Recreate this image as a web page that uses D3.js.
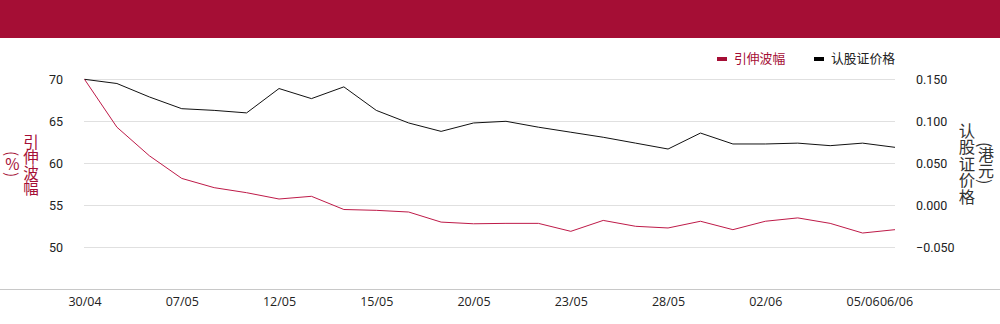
<!DOCTYPE html>
<html><head><meta charset="utf-8">
<script src="https://cdn.jsdelivr.net/npm/d3@7"></script>
<style>html,body{margin:0;padding:0;background:#fff;}svg{display:block;}
.vt{writing-mode:vertical-rl;text-orientation:mixed;}
.up{text-orientation:upright;}</style>
</head><body><svg id="c" width="1000" height="324"></svg>
<script>
const dates = ["30/04","02/05","06/05","07/05","08/05","09/05","12/05","13/05","14/05","15/05","16/05","19/05","20/05","21/05","22/05","23/05","26/05","27/05","28/05","29/05","30/05","02/06","03/06","04/06","05/06","06/06"];
const impliedVol = [70,64.3,60.9,58.2,57.1,56.5,55.75,56.07,54.5,54.4,54.2,53.0,52.8,52.85,52.85,51.9,53.2,52.5,52.3,53.1,52.1,53.1,53.5,52.85,51.7,52.1];
const warrantPrice = [0.150,0.145,0.129,0.115,0.113,0.110,0.139,0.127,0.141,0.113,0.098,0.088,0.098,0.100,0.093,0.087,0.081,0.074,0.067,0.086,0.073,0.073,0.074,0.071,0.074,0.069];
const leftTicks = [50,55,60,65,70];
const rightTicks = [-0.05,0,0.05,0.1,0.15];
const xTickLabels = ["30/04","07/05","12/05","15/05","20/05","23/05","28/05","02/06","05/06","06/06"];
const seriesNames = ["引伸波幅","认股证价格"];
const leftTitle = ["引伸波幅",["(","%",")"]];
const rightTitle = ["认股证价格",["(","港元",")"]];

const RED = "#a50e35", LINE_RED = "#be1a48", DARK = "#111";
const svg = d3.select("#c");
const font = "Roboto, 'Liberation Sans', Arial, sans-serif";
const cjk = "'Noto Sans CJK SC', sans-serif";

svg.append("rect").attr("x",0).attr("y",0).attr("width",1000).attr("height",38).attr("fill",RED);

const x = d3.scalePoint().domain(dates).range([84.5, 895]);
const yL = d3.scaleLinear().domain([50,70]).range([247.3,79.3]);
const yR = d3.scaleLinear().domain([-0.05,0.15]).range([247.3,79.3]);

// grid
svg.append("g").selectAll("line").data(leftTicks).join("line")
  .attr("x1",84).attr("x2",895).attr("y1",d=>Math.round(yL(d))+0.5).attr("y2",d=>Math.round(yL(d))+0.5)
  .attr("stroke","#e0e0e0").attr("stroke-width",1);

// left axis
const gl = svg.append("g").attr("transform","translate(63,0)")
  .call(d3.axisLeft(yL).tickValues(leftTicks).tickSize(0).tickPadding(0).tickFormat(d3.format("d")));
gl.select(".domain").remove();
gl.selectAll("text").attr("font-family",font).attr("font-size",12.5).attr("fill","#222");

// right axis
const gr = svg.append("g").attr("transform","translate(916,0)")
  .call(d3.axisRight(yR).tickValues(rightTicks).tickSize(0).tickPadding(0).tickFormat(d3.format(".3f")));
gr.select(".domain").remove();
gr.selectAll("text").attr("font-family",font).attr("font-size",12.5).attr("fill","#222");

// bottom axis line
svg.append("line").attr("x1",0).attr("x2",1000).attr("y1",289.5).attr("y2",289.5).attr("stroke","#c8c8c8");
const gx = svg.append("g").attr("transform","translate(0,297)")
  .call(d3.axisBottom(x).tickValues(xTickLabels).tickSize(0).tickPadding(0));
gx.select(".domain").remove();
gx.selectAll("text").attr("font-family","'Open Sans', sans-serif").attr("font-size",12.5).attr("fill","#222").attr("dy","0.71em");
gx.selectAll(".tick").filter(d=>d==="06/06").select("text").attr("dx",1);

// lines
const lineL = d3.line().x((d,i)=>x(dates[i])).y(d=>yL(d));
const lineR = d3.line().x((d,i)=>x(dates[i])).y(d=>yR(d));
svg.append("path").datum(warrantPrice).attr("d",lineR).attr("fill","none").attr("stroke",DARK).attr("stroke-width",1);
svg.append("path").datum(impliedVol).attr("d",lineL).attr("fill","none").attr("stroke",LINE_RED).attr("stroke-width",1);

// legend
const legend = [{name:seriesNames[0],color:RED,x:717,tc:RED},{name:seriesNames[1],color:"#000",x:814,tc:"#222"}];
const lg = svg.append("g").selectAll("g").data(legend).join("g").attr("transform",d=>`translate(${d.x},59)`);
lg.append("rect").attr("x",0).attr("y",-2).attr("width",10).attr("height",4).attr("fill",d=>d.color);
lg.append("text").attr("x",17).attr("y",0).attr("dy","0.35em").attr("font-family",cjk).attr("font-size",12.8)
  .attr("fill",d=>d.tc).text(d=>d.name);

// vertical titles, one text run per column
function vcol(parts, cx, cy, color, size){
  const t = svg.append("text").attr("class","vt").attr("x",cx).attr("y",cy)
    .attr("text-anchor","middle").attr("font-family",cjk).attr("font-size",size).attr("fill",color);
  if (typeof parts === "string") t.text(parts);
  else parts.forEach(p => t.append("tspan").attr("class", (p==="("||p===")") ? null : "up").text(p));
}
vcol(leftTitle[0], 31, 165, RED, 15.5);
vcol(leftTitle[1], 12.5, 164, RED, 15.5);
vcol(rightTitle[0], 967, 163.5, "#333", 16.4);
vcol(rightTitle[1], 986, 163.5, "#333", 16);
</script></body></html>
